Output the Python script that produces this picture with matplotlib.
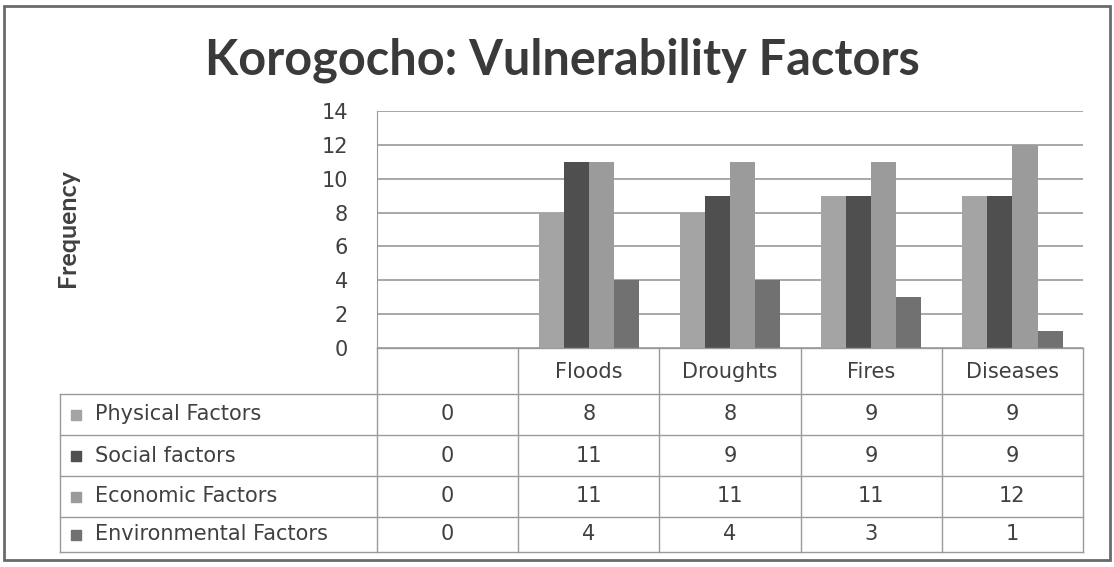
import matplotlib.pyplot as plt
from matplotlib.patches import Rectangle

categories = ["", "Floods", "Droughts", "Fires", "Diseases"]
series = ["Physical Factors", "Social factors", "Economic Factors", "Environmental Factors"]
physical = [0, 8, 8, 9, 9]
social = [0, 11, 9, 9, 9]
economic = [0, 11, 11, 11, 12]
environmental = [0, 4, 4, 3, 1]
yticks = [0, 2, 4, 6, 8, 10, 12, 14]

values = [physical, social, economic, environmental]
colors = ["#a4a4a4", "#4f4f4f", "#9b9b9b", "#717171"]
txt = "#404040"
grid = "#9a9a9a"

W, H = 1114, 567
fig = plt.figure(figsize=(W / 100, H / 100), dpi=100)

# pixel -> figure fraction helper
def box(x0, y0, x1, y1):
    return [x0 / W, 1 - y1 / H, (x1 - x0) / W, (y1 - y0) / H]

# outer frame
fig.patches.append(Rectangle((0.004, 0.012), 0.992, 0.978, transform=fig.transFigure,
                             fill=False, ec="#6a6a6a", lw=2))

fig.text(0.505, 0.893, "Korogocho: Vulnerability Factors", ha="center", va="center",
         fontsize=35, fontweight="bold", family="Lato", color="#3a3a3a")

ax = fig.add_axes(box(377, 111, 1083, 348))
n = len(categories)
bw = 0.178
for k, vals in enumerate(values):
    xs = [i + (k - 1.5) * bw for i in range(n)]
    ax.bar(xs, vals, width=bw, color=colors[k], zorder=3)
ax.set_xlim(-0.5, n - 0.5)
ax.set_ylim(0, 14)
ax.set_yticks(yticks)
ax.set_xticks([])
ax.grid(axis="y", color=grid, lw=1.2, zorder=0)
for s in ["top", "right", "bottom"]:
    ax.spines[s].set_visible(False)
ax.spines["left"].set_color(grid)
ax.tick_params(axis="y", length=0, pad=21, labelsize=15, labelcolor=txt)
for lab in ax.get_yticklabels():
    lab.set_family("DejaVu Sans")
    lab.set_horizontalalignment("right")
fig.text(0.061, 0.598, "Frequency", rotation=90, ha="center", va="center",
         fontsize=18, fontweight="bold", family="Lato", color=txt)

# data table under the plot, sharing the category scale (y in pixels)
unit = (1083 - 377) / n
left = -0.5 - (377 - 60) / unit
rows = [348, 394, 435, 476, 517, 552]
tb = fig.add_axes(box(60, rows[0], 1083, rows[-1]))
tb.set_xlim(left, n - 0.5)
tb.set_ylim(rows[-1], rows[0])
tb.axis("off")
lw = 1.0
for i in range(n + 1):
    tb.plot([i - 0.5, i - 0.5], [rows[0], rows[-1]], color=grid, lw=lw, clip_on=False)
tb.plot([left, left], [rows[1], rows[-1]], color=grid, lw=lw, clip_on=False)
tb.plot([-0.5, n - 0.5], [rows[0], rows[0]], color=grid, lw=lw, clip_on=False)
for r in rows[1:]:
    tb.plot([left, n - 0.5], [r, r], color=grid, lw=lw, clip_on=False)
fs = 15
for i, c in enumerate(categories):
    tb.text(i, (rows[0] + rows[1]) / 2 + 1, c, ha="center", va="center", fontsize=fs,
            family="DejaVu Sans", color=txt)
for k, name in enumerate(series):
    y = (rows[k + 1] + rows[k + 2]) / 2
    tb.scatter([left + 0.11], [y], marker="s", s=60, color=colors[k])
    tb.text(left + 0.25, y, name, ha="left", va="center", fontsize=fs,
            family="DejaVu Sans", color=txt)
    for i, v in enumerate(values[k]):
        tb.text(i, y, str(v), ha="center", va="center", fontsize=fs,
                family="DejaVu Sans", color=txt)

fig.savefig("out.png", dpi=100)
